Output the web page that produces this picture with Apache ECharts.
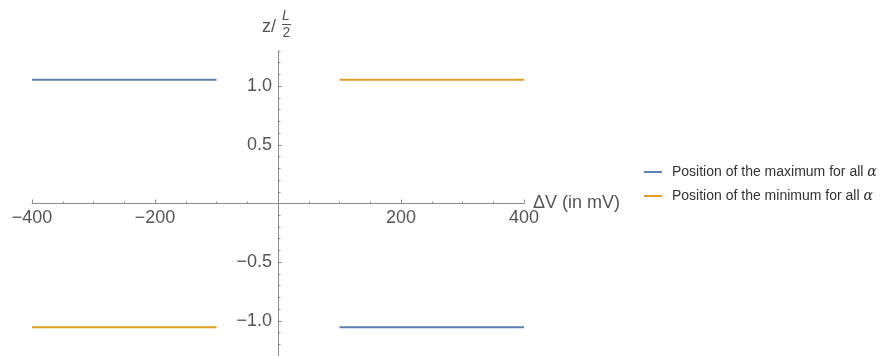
<!DOCTYPE html>
<html>
<head>
<meta charset="utf-8">
<script src="https://cdn.jsdelivr.net/npm/echarts@6/dist/echarts.min.js"></script>
<style>
  html, body { margin: 0; padding: 0; background: #fff; }
  #chart { width: 884px; height: 356px; }
</style>
</head>
<body>
<div id="chart"></div>
<script>
// Bias voltage (mV); null separates the two branches
const deltaV = [-400, -100, null, 100, 400];
// Position z / (L/2) of the extrema
const zMaximum = [1.055, 1.055, null, -1.055, -1.055];
const zMinimum = [-1.055, -1.055, null, 1.055, 1.055];

const seriesNames = ['Position of the maximum for all α', 'Position of the minimum for all α'];
const seriesColors = ['#5E81B5', '#E19C24'];

const xTicks = [-400, -200, 200, 400];
const yTicks = [-1.0, -0.5, 0.5, 1.0];

const toPairs = ys => deltaV.map((x, i) => (x === null ? ['-', '-'] : [x, ys[i]]));
const minus = s => s.replace('-', '\u2212');
const isTick = (v, list) => list.some(t => Math.abs(t - v) < 1e-6);

const labelFont = { fontFamily: 'Liberation Sans, Arial, sans-serif', fontSize: 18, color: '#555' };
const axisColor = '#8c8c8c';

// plot box; both ranges are symmetric, so the axes cross at its centre
const W = 884, H = 356;
const box = { left: 32, right: 360, top: 51, bottom: 0 };
const yAxisShift = -(W - box.left - box.right) / 2;   // move the vertical axis to x = 0
const xAxisShift = -(H - box.top - box.bottom) / 2;   // move the horizontal axis to y = 0

const chart = echarts.init(document.getElementById('chart'), null, { renderer: 'canvas' });

chart.setOption({
  animation: false,
  backgroundColor: '#fff',
  grid: Object.assign({ containLabel: false, outerBoundsMode: 'none' }, box),
  xAxis: {
    type: 'value',
    position: 'bottom',
    offset: xAxisShift,
    min: -400, max: 400, interval: 200,
    name: 'ΔV (in mV)',
    nameLocation: 'end',
    nameGap: 9,
    nameMoveOverlap: false,
    nameTextStyle: Object.assign({ verticalAlign: 'middle', align: 'left' }, labelFont),
    axisLine: { onZero: false, lineStyle: { color: axisColor, width: 1 } },
    axisTick: { show: true, inside: true, length: 4, lineStyle: { color: axisColor } },
    minorTick: { show: true, splitNumber: 4, length: 2, lineStyle: { color: axisColor } },
    axisLabel: Object.assign({
      margin: 6,
      formatter: v => (isTick(v, xTicks) ? minus(String(v)) : '')
    }, labelFont),
    splitLine: { show: false },
    minorSplitLine: { show: false }
  },
  yAxis: [
    {
      type: 'value',
      position: 'left',
      offset: yAxisShift,
      min: -1.3, max: 1.3, interval: 0.1,
      axisLine: { onZero: false, lineStyle: { color: axisColor, width: 1 } },
      axisTick: { show: true, inside: true, length: 2.5, lineStyle: { color: axisColor } },
      axisLabel: Object.assign({
        margin: 6,
        formatter: v => (isTick(v, yTicks) ? minus(v.toFixed(1)) : '')
      }, labelFont),
      splitLine: { show: false }
    },
    {
      type: 'value',
      position: 'left',
      offset: yAxisShift,
      min: -1.3, max: 1.3,
      axisLine: { show: false, onZero: false },
      axisTick: { show: true, inside: true, length: 4, customValues: yTicks, lineStyle: { color: axisColor } },
      axisLabel: { show: false },
      splitLine: { show: false }
    }
  ],
  legend: {
    orient: 'vertical',
    left: 644,
    top: 165,
    padding: 0,
    itemWidth: 18,
    itemHeight: 2,
    itemGap: 10,
    icon: 'rect',
    data: seriesNames,
    formatter: name => name.replace('α', '{a|α}'),
    textStyle: {
      fontFamily: 'Liberation Sans, Arial, sans-serif',
      fontSize: 14,
      color: '#333',
      padding: [0, 0, 0, 5],
      rich: { a: { fontStyle: 'italic', fontFamily: 'DejaVu Serif, serif', fontSize: 14, color: '#333' } }
    }
  },
  series: [
    {
      name: seriesNames[0],
      type: 'line',
      data: toPairs(zMaximum),
      showSymbol: false,
      connectNulls: false,
      color: seriesColors[0],
      lineStyle: { width: 2, color: seriesColors[0] }
    },
    {
      name: seriesNames[1],
      type: 'line',
      data: toPairs(zMinimum),
      showSymbol: false,
      connectNulls: false,
      color: seriesColors[1],
      lineStyle: { width: 2, color: seriesColors[1] }
    }
  ],
  graphic: [
    // vertical-axis title: z / (L over 2)
    {
      type: 'text', left: 262, top: 18,
      style: { text: 'z/', font: '18px Liberation Sans, Arial, sans-serif', fill: '#555' }
    },
    {
      type: 'text', left: 282, top: 9,
      style: { text: 'L', font: 'italic 14px Liberation Sans, Arial, sans-serif', fill: '#555' }
    },
    {
      type: 'line', shape: { x1: 282, y1: 24.5, x2: 291, y2: 24.5 },
      style: { stroke: '#555', lineWidth: 1 }
    },
    {
      type: 'text', left: 282.5, top: 26,
      style: { text: '2', font: '14px Liberation Sans, Arial, sans-serif', fill: '#555' }
    }
  ]
});
</script>
</body>
</html>
